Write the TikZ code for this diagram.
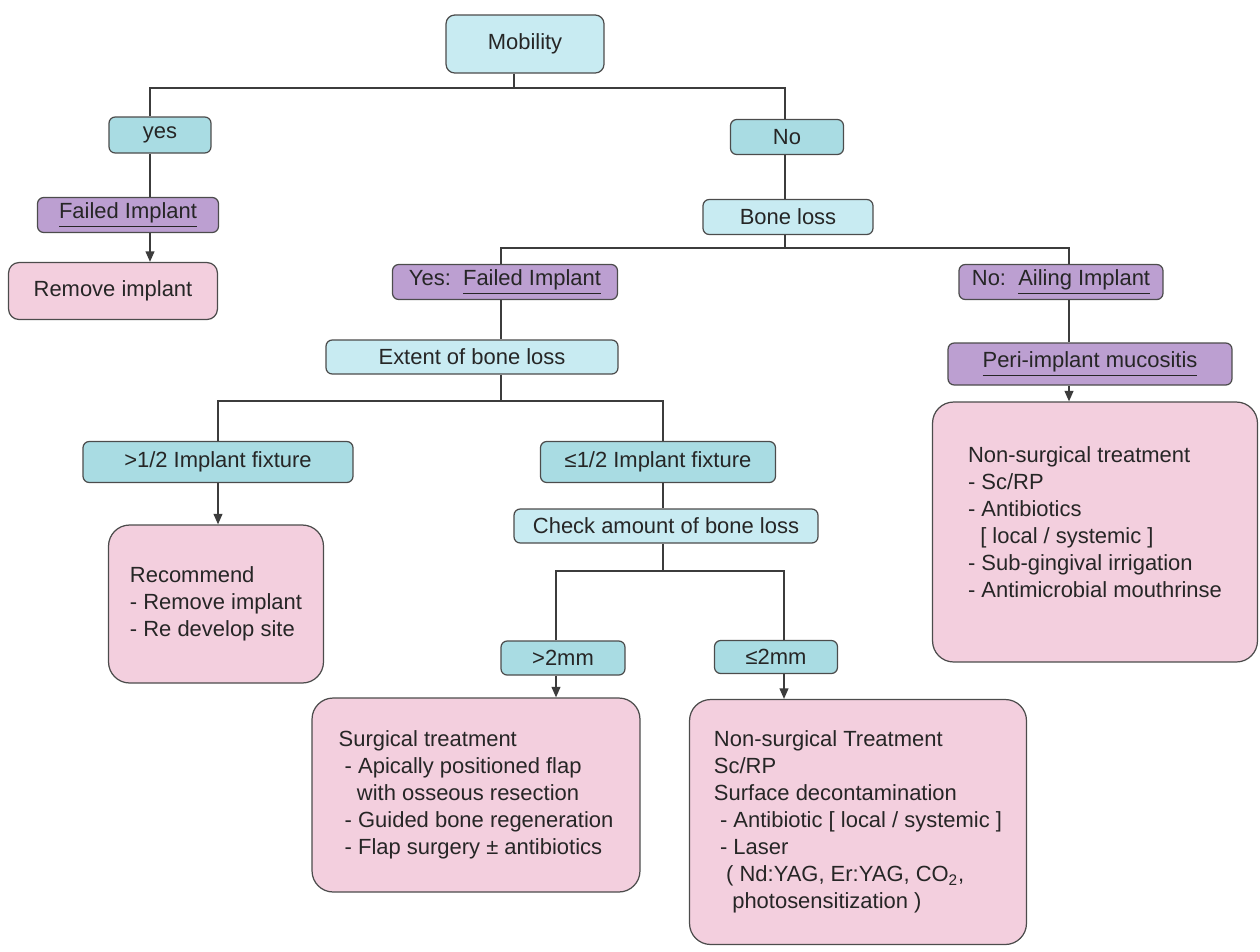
\documentclass[tikz,border=0pt]{standalone}
\usepackage{fontspec}
\setmainfont{Liberation Sans}
\usetikzlibrary{arrows.meta}
\definecolor{cyanlt}{HTML}{C8EBF2}
\definecolor{cyandk}{HTML}{A9DCE3}
\definecolor{purp}{HTML}{BC9FD1}
\definecolor{pinkbox}{HTML}{F3CFDE}
\definecolor{edgegray}{HTML}{3C3C3C}
\tikzset{
    boxl/.style = {rectangle, rounded corners=3.5pt, draw=black!70, line width=0.7pt, fill=cyanlt, inner sep=2pt, text=black!85, font=\fontsize{12.5}{15.4}\selectfont},
    boxd/.style = {boxl, fill=cyandk},
    boxp/.style = {boxl, fill=purp},
    boxk/.style = {boxl, rounded corners=12pt, fill=pinkbox, align=left},
    edgen/.style = {draw=edgegray, line width=0.9pt},
    edgea/.style = {edgen, -{Triangle[length=6pt,width=5pt]}}
}
\begin{document}
\begin{tikzpicture}[x=0.02cm,y=-0.02cm]
\useasboundingbox (0,0) rectangle (1260,951);
% boxes
\node[boxl, minimum width=3.16cm, minimum height=1.16cm, rounded corners=5pt] at (525,44) (mob) {Mobility};
\node[boxd, minimum width=2.04cm, minimum height=0.72cm] at (160,135) (yes) {yes};
\node[boxp, minimum width=3.62cm, minimum height=0.70cm] at (128,215) (fail1) {\underline{Failed Implant}};
\node[boxk, minimum width=4.18cm, minimum height=1.14cm, rounded corners=6pt] at (113,291) (rem) {Remove implant};
\node[boxd, minimum width=2.26cm, minimum height=0.70cm] at (787,137) (no) {No};
\node[boxl, minimum width=3.40cm, minimum height=0.70cm] at (788,217) (bone) {Bone loss};
\node[boxp, minimum width=4.50cm, minimum height=0.70cm] at (505,282) (yesf) {Yes:\ \ \underline{Failed Implant}};
\node[boxp, minimum width=4.08cm, minimum height=0.70cm] at (1061,282) (noai) {No:\ \ \underline{Ailing Implant}};
\node[boxl, minimum width=5.84cm, minimum height=0.68cm] at (472,357) (ext) {Extent of bone loss};
\node[boxp, minimum width=5.68cm, minimum height=0.84cm] at (1090,364) (peri) {\underline{Peri-implant mucositis}};
\node[boxk, minimum width=6.50cm, minimum height=5.20cm] at (1095,532) (rbox) {Non-surgical treatment\\- Sc/RP\\- Antibiotics\\\ \ [ local / systemic ]\\- Sub-gingival irrigation\\- Antimicrobial mouthrinse\\[-4pt]\mbox{}};
\node[boxd, minimum width=5.40cm, minimum height=0.82cm] at (218,462) (half1) {>1/2 Implant fixture};
\node[boxd, minimum width=4.70cm, minimum height=0.82cm] at (658,462) (half2) {≤1/2 Implant fixture};
\node[boxl, minimum width=6.08cm, minimum height=0.68cm] at (666,526) (check) {Check amount of bone loss};
\node[boxk, minimum width=4.30cm, minimum height=3.16cm] at (216,604) (rec) {Recommend\\- Remove implant\\- Re develop site};
\node[boxd, minimum width=2.48cm, minimum height=0.68cm] at (563,658) (gt2) {>2mm};
\node[boxd, minimum width=2.46cm, minimum height=0.66cm] at (776,657) (le2) {≤2mm};
\node[boxk, minimum width=6.56cm, minimum height=3.88cm] at (476,795) (surg) {Surgical treatment\\\ - Apically positioned flap\\\ \ \ with osseous resection\\\ - Guided bone regeneration\\\ - Flap surgery ± antibiotics};
\node[boxk, minimum width=6.74cm, minimum height=4.90cm] at (858,822) (nons) {Non-surgical Treatment\\Sc/RP\\Surface decontamination\\\ - Antibiotic [ local / systemic ]\\\ - Laser\\\ \ ( Nd:YAG, Er:YAG, CO\textsubscript{2},\\\ \ \ photosensitization )};
% columns of the connectors
\coordinate (jM) at (514,88);
\coordinate (cA) at (150,88);
\coordinate (cB) at (785,88);
\coordinate (jB) at (785,248);
\coordinate (cC) at (501,248);
\coordinate (cD) at (1069,248);
\coordinate (cE) at (218,401);
\coordinate (cF) at (663,401);
\coordinate (cG) at (556,571);
\coordinate (cH) at (784,571);
%
\draw[edgen] (jM |- mob.south) -- (jM);
\draw[edgen] (cA |- yes.north) |- (cB) -- (cB |- no.north);
\draw[edgen] (cA |- yes.south) -- (cA |- fail1.north);
\draw[edgea] (cA |- fail1.south) -- (cA |- rem.north);
\draw[edgen] (cB |- no.south) -- (cB |- bone.north);
\draw[edgen] (jB |- bone.south) -- (jB);
\draw[edgen] (cC |- yesf.north) |- (cD) -- (cD |- noai.north);
\draw[edgen] (cC |- yesf.south) -- (cC |- ext.north);
\draw[edgen] (cD |- noai.south) -- (cD |- peri.north);
\draw[edgea] (cD |- peri.south) -- (cD |- rbox.north);
\draw[edgen] (cC |- ext.south) -- (cC |- cE);
\draw[edgen] (cE |- half1.north) |- (cF) -- (cF |- half2.north);
\draw[edgea] (cE |- half1.south) -- (cE |- rec.north);
\draw[edgen] (cF |- half2.south) -- (cF |- check.north);
\draw[edgen] (cF |- check.south) -- (cF |- cG);
\draw[edgen] (cG |- gt2.north) |- (cH) -- (cH |- le2.north);
\draw[edgea] (cG |- gt2.south) -- (cG |- surg.north);
\draw[edgea] (cH |- le2.south) -- (cH |- nons.north);
\end{tikzpicture}
\end{document}
